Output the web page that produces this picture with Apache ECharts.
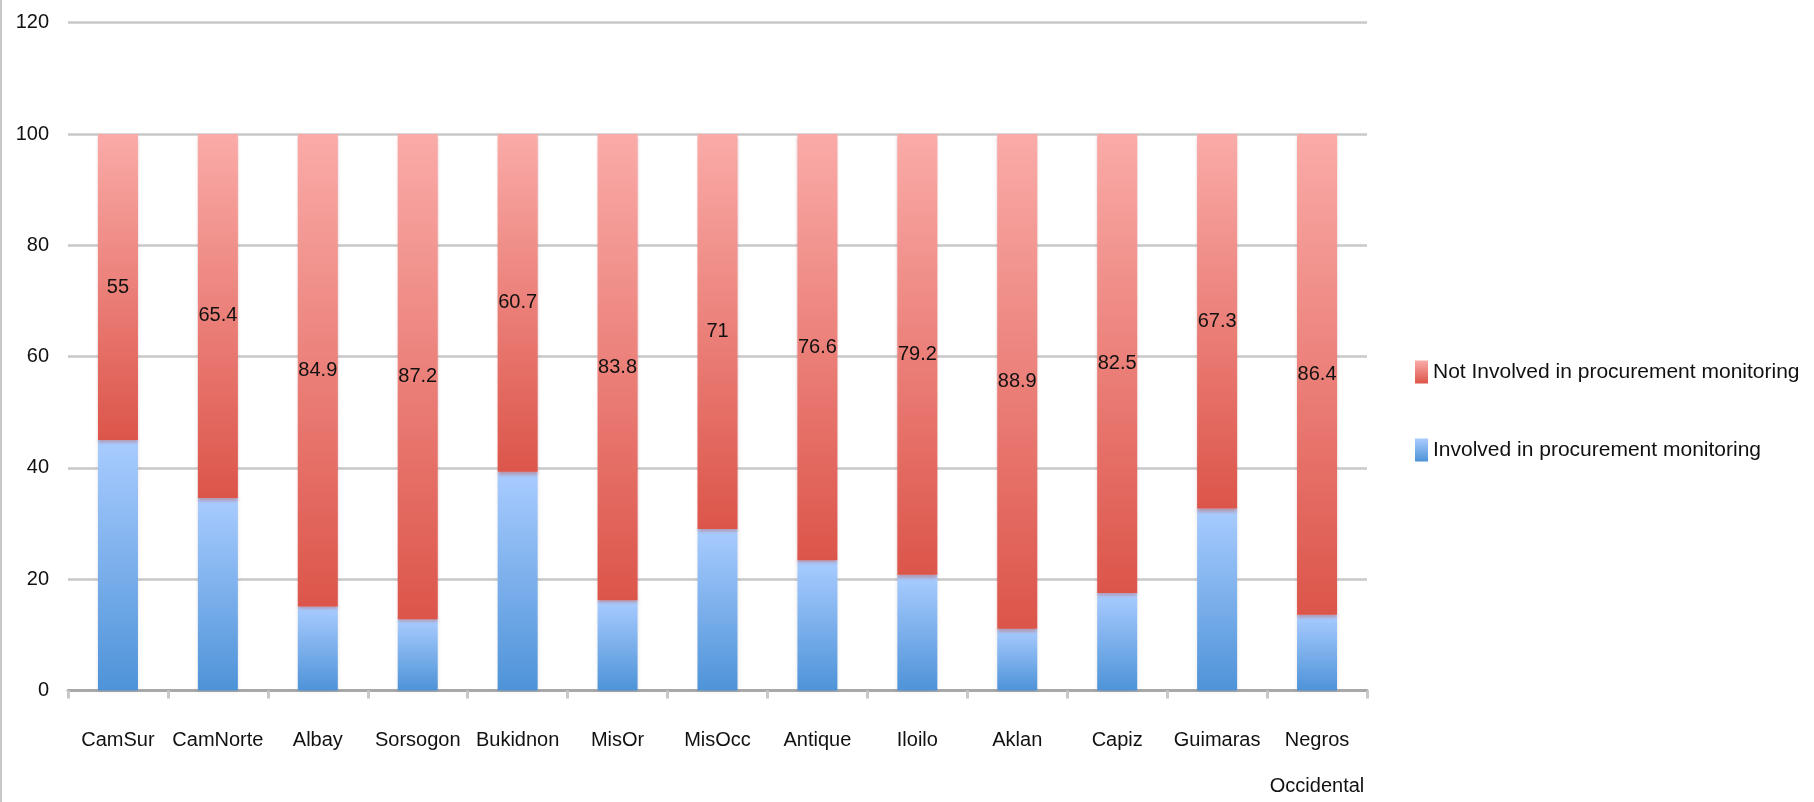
<!DOCTYPE html>
<html>
<head>
<meta charset="utf-8">
<script src="https://cdn.jsdelivr.net/npm/echarts@6/dist/echarts.min.js"></script>
<style>
  html, body { margin: 0; padding: 0; background: #fff; }
  #wrap { width: 1812px; height: 802px; border-left: 2px solid #c8c8c8; }
  #chart-container { width: 1812px; height: 802px; }
</style>
</head>
<body>
<div id="wrap"><div id="chart-container"></div></div>
<script>
// provinces along the x axis
const provincias = ['CamSur', 'CamNorte', 'Albay', 'Sorsogon', 'Bukidnon', 'MisOr', 'MisOcc',
    'Antique', 'Iloilo', 'Aklan', 'Capiz', 'Guimaras', 'Negros\nOccidental'];

// % involved (blue, bottom of the stack)
const envolvidos = [45, 34.6, 15.1, 12.8, 39.3, 16.2, 29, 23.4, 20.8, 11.1, 17.5, 32.7, 13.6];

// % not involved (red, top of the stack) - the printed labels
const naoEnvolvidos = [55, 65.4, 84.9, 87.2, 60.7, 83.8, 71, 76.6, 79.2, 88.9, 82.5, 67.3, 86.4];

const nomeEnvolvido = 'Involved in procurement monitoring';
const nomeNaoEnvolvido = 'Not Involved in procurement monitoring';

const fonte = "'Liberation Sans', Arial, sans-serif";

const grafico = () => {
    var dom = document.getElementById('chart-container');
    var myChart = echarts.init(dom, null, { renderer: 'canvas' });

    var option = {
        animation: false,
        textStyle: { fontFamily: fonte },
        // outerBoundsMode none: don't let the 2-line label squeeze the plot
        grid: { left: 66, top: 22.7, width: 1299, bottom: 111.5, containLabel: false, outerBoundsMode: 'none' },
        legend: {
            orient: 'vertical',
            left: 1408,
            top: 354,
            icon: 'rect',
            itemWidth: 13,
            itemHeight: 23,
            itemGap: 52,
            data: [nomeNaoEnvolvido, nomeEnvolvido],
            textStyle: { fontFamily: fonte, fontSize: 21, color: '#111', lineHeight: 26 }
        },
        xAxis: {
            type: 'category',
            data: provincias,
            axisLine: { lineStyle: { color: '#a8a8a8', width: 3 } },
            axisTick: { show: true, length: 8, lineStyle: { color: '#c8c8c8', width: 3 } },
            axisLabel: { fontFamily: fonte, fontSize: 20, color: '#111', margin: 27, lineHeight: 46, interval: 0 }
        },
        yAxis: {
            type: 'value',
            min: 0,
            max: 120,
            interval: 20,
            axisLine: { show: false },
            axisTick: { show: false },
            axisLabel: { fontFamily: fonte, fontSize: 20, color: '#111', margin: 19 },
            splitLine: { lineStyle: { color: '#c8c8c8', width: 2.5 } }
        },
        series: [
            {
                name: nomeEnvolvido,
                type: 'bar',
                stack: 'total',
                barWidth: 40,
                data: envolvidos,
                itemStyle: {
                    color: new echarts.graphic.LinearGradient(0, 0, 0, 1, [
                        { offset: 0, color: '#a9ccff' },
                        { offset: 1, color: '#4e93d8' }
                    ]),
                    shadowColor: 'rgba(0,0,0,0.10)',
                    shadowBlur: 4
                }
            },
            {
                name: nomeNaoEnvolvido,
                type: 'bar',
                stack: 'total',
                barWidth: 40,
                data: naoEnvolvidos,
                label: {
                    show: true,
                    position: 'inside',
                    fontFamily: fonte,
                    fontSize: 20,
                    color: '#111'
                },
                itemStyle: {
                    color: new echarts.graphic.LinearGradient(0, 0, 0, 1, [
                        { offset: 0, color: '#faaba8' },
                        { offset: 1, color: '#dc554a' }
                    ]),
                    shadowColor: 'rgba(185,120,130,0.6)',
                    shadowBlur: 3,
                    shadowOffsetY: 3
                }
            }
        ]
    };

    myChart.setOption(option);
    window.addEventListener('resize', myChart.resize);
};

grafico();
</script>
</body>
</html>
